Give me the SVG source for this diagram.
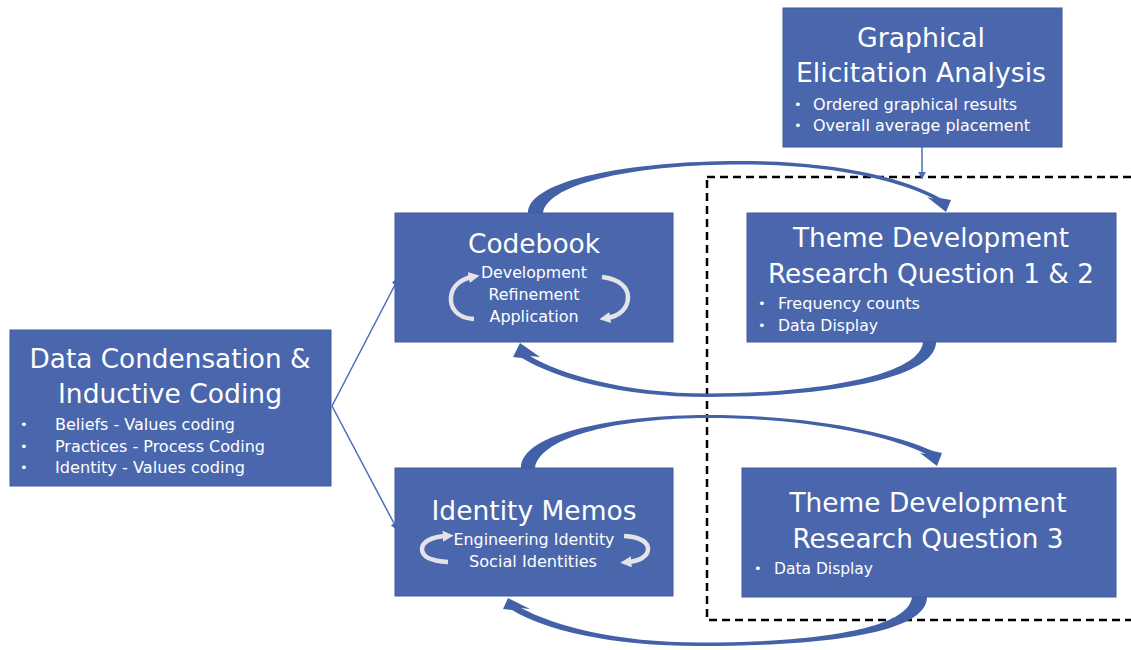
<svg xmlns="http://www.w3.org/2000/svg" width="1131" height="650" viewBox="0 0 1131 650">
<style>
.box{fill:#4A66AC;stroke:#3F5C9E;stroke-width:1}
.t{font-family:"DejaVu Sans","Liberation Sans",sans-serif;fill:#fff}
.h{font-size:27px;text-anchor:middle}
.s{font-size:16px}
.c{text-anchor:middle}
.b{font-size:13px}
.band{fill:#4261A7}
.thin{stroke:#4A6CB8;stroke-width:1.5;fill:none}
.loop{stroke:#E4E4E8;stroke-width:4.5;fill:none}
</style>
<defs>
<marker id="ah" viewBox="0 0 10 10" refX="8" refY="5" markerWidth="8" markerHeight="8" markerUnits="userSpaceOnUse" orient="auto">
<path d="M0,0 L10,5 L0,10 z" fill="#4A6CB8"/>
</marker>
<marker id="wh" viewBox="0 0 10 10" refX="3" refY="5" markerWidth="11" markerHeight="11" markerUnits="userSpaceOnUse" orient="auto">
<path d="M0,0 L10,5 L0,10 z" fill="#E4E4E8"/>
</marker>
</defs>

<rect x="707" y="177" width="440" height="443" fill="none" stroke="#000" stroke-width="2.5" stroke-dasharray="8,5"/>

<g id="connectors">
<path class="band" d="M 528,213 C 528,180 630,161 740,161 C 835,161 905,178 940,198 L 951,200 L 946,212 L 927,197 L 934,199 C 900,181 835,164.5 740,164.5 C 640,164.5 548,182 543,213 Z"/>
<path class="band" d="M 936,342 C 936,380 820,397 708,397 C 620,397 555,378 522,358 L 513,357 L 520,343 L 540,357 L 530,356 C 560,374 625,393.5 708,393.5 C 810,393.5 920,377 923,342 Z"/>
<path class="band" d="M 521,468 C 521,432 620,415 707,415 C 810,415 890,432 933,451 L 942,453 L 937,466 L 920,453 L 926,454 C 890,436 810,418 707,418 C 625,418 540,435 535,468 Z"/>
<path class="band" d="M 927,597 C 927,636 810,646 700,646 C 610,646 545,630 512,610 L 503,609 L 508,598 L 530,609 L 521,608 C 555,626 615,642.5 700,642.5 C 800,642.5 908,632 912,597 Z"/>
<line class="thin" x1="332" y1="406" x2="398" y2="279" marker-end="url(#ah)"/>
<line class="thin" x1="332" y1="406" x2="397" y2="529" marker-end="url(#ah)"/>
<line class="thin" x1="922" y1="147" x2="922" y2="178" marker-end="url(#ah)"/>
</g>

<g id="data-condensation">
<rect class="box" x="10" y="330" width="321" height="156"/>
<text class="t h" x="170" y="368" textLength="281" lengthAdjust="spacingAndGlyphs">Data Condensation &amp;</text>
<text class="t h" x="170" y="403" textLength="224" lengthAdjust="spacingAndGlyphs">Inductive Coding</text>
<text class="t b" x="20" y="429">•</text>
<text class="t b" x="20" y="451">•</text>
<text class="t b" x="20" y="472">•</text>
<text class="t s" x="55" y="430" textLength="180" lengthAdjust="spacingAndGlyphs">Beliefs - Values coding</text>
<text class="t s" x="55" y="452" textLength="210" lengthAdjust="spacingAndGlyphs">Practices - Process Coding</text>
<text class="t s" x="55" y="473" textLength="190" lengthAdjust="spacingAndGlyphs">Identity - Values coding</text>
</g>

<g id="codebook">
<rect class="box" x="395" y="213" width="278" height="129"/>
<text class="t h" x="534" y="253" textLength="132" lengthAdjust="spacingAndGlyphs">Codebook</text>
<text class="t s c" x="534" y="278" textLength="106" lengthAdjust="spacingAndGlyphs">Development</text>
<text class="t s c" x="534" y="300" textLength="91" lengthAdjust="spacingAndGlyphs">Refinement</text>
<text class="t s c" x="534" y="322" textLength="89" lengthAdjust="spacingAndGlyphs">Application</text>
<path class="loop" d="M 474,319 C 456,318 450,307 451,297 C 452,286 461,279 472,277" marker-end="url(#wh)"/>
<path class="loop" d="M 602,277 C 620,279 628,288 628,297 C 628,308 620,316 607,318" marker-end="url(#wh)"/>
</g>

<g id="identity-memos">
<rect class="box" x="395" y="468" width="278" height="128"/>
<text class="t h" x="534" y="520" textLength="205" lengthAdjust="spacingAndGlyphs">Identity Memos</text>
<text class="t s c" x="534" y="545" textLength="161" lengthAdjust="spacingAndGlyphs">Engineering Identity</text>
<text class="t s c" x="533" y="567" textLength="128" lengthAdjust="spacingAndGlyphs">Social Identities</text>
<path class="loop" d="M 448,562 C 430,561 422,556 422,549 C 422,542 431,537 446,536" marker-end="url(#wh)"/>
<path class="loop" d="M 624,536 C 640,537 648,542 648,549 C 648,556 640,561 628,562" marker-end="url(#wh)"/>
</g>

<g id="graphical-elicitation">
<rect class="box" x="783" y="8" width="279" height="139"/>
<text class="t h" x="921" y="47" textLength="128" lengthAdjust="spacingAndGlyphs">Graphical</text>
<text class="t h" x="921" y="82" textLength="250" lengthAdjust="spacingAndGlyphs">Elicitation Analysis</text>
<text class="t b" x="794" y="109">•</text>
<text class="t b" x="794" y="130">•</text>
<text class="t s" x="813" y="110" textLength="204" lengthAdjust="spacingAndGlyphs">Ordered graphical results</text>
<text class="t s" x="813" y="131" textLength="217" lengthAdjust="spacingAndGlyphs">Overall average placement</text>
</g>

<g id="theme-rq12">
<rect class="box" x="747" y="213" width="369" height="129"/>
<text class="t h" x="931" y="247" textLength="276" lengthAdjust="spacingAndGlyphs">Theme Development</text>
<text class="t h" x="931" y="283" textLength="326" lengthAdjust="spacingAndGlyphs">Research Question 1 &amp; 2</text>
<text class="t b" x="758" y="308">•</text>
<text class="t b" x="758" y="330">•</text>
<text class="t s" x="778" y="309" textLength="142" lengthAdjust="spacingAndGlyphs">Frequency counts</text>
<text class="t s" x="778" y="331" textLength="100" lengthAdjust="spacingAndGlyphs">Data Display</text>
</g>

<g id="theme-rq3">
<rect class="box" x="742" y="468" width="374" height="129"/>
<text class="t h" x="928" y="512" textLength="277" lengthAdjust="spacingAndGlyphs">Theme Development</text>
<text class="t h" x="928" y="548" textLength="271" lengthAdjust="spacingAndGlyphs">Research Question 3</text>
<text class="t b" x="754" y="573">•</text>
<text class="t s" x="774" y="574" textLength="99" lengthAdjust="spacingAndGlyphs">Data Display</text>
</g>
</svg>
